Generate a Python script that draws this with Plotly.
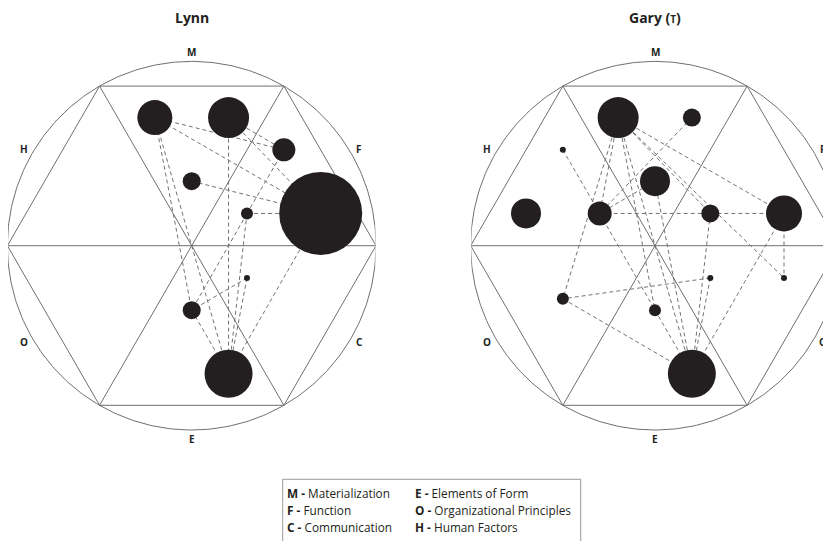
import numpy as np
import plotly.graph_objects as go

# ---------------- data ----------------
axis_letters = ["M", "F", "C", "E", "O", "H"]
axis_angles = [90, 30, -30, -90, 210, 150]

lynn_x = [-0.2, 0.2, 0.5, 0.0, 0.3, 0.7, 0.3, 0.0, 0.2]
lynn_y = [0.695, 0.695, 0.52, 0.35, 0.175, 0.175, -0.175, -0.35, -0.695]
lynn_size = [35, 41, 23, 18, 12, 83, 6, 18, 48]
lynn_edges = [(0, 2), (0, 5), (0, 7), (0, 8), (1, 2), (1, 5), (1, 8), (2, 4),
              (4, 7), (3, 5), (4, 5), (4, 8), (6, 7), (6, 8), (5, 8), (7, 8)]

gary_x = [-0.2, 0.2, -0.5, 0.0, -0.7, -0.3, 0.3, 0.7, 0.3, 0.7, -0.5, 0.0, 0.2]
gary_y = [0.695, 0.695, 0.52, 0.35, 0.175, 0.175, 0.175, 0.175, -0.175, -0.175,
          -0.288, -0.35, -0.695]
gary_size = [41, 18, 6, 30, 30, 24, 18, 36, 6, 6, 12, 12, 48]
gary_edges = [(1, 5), (3, 5), (0, 5), (0, 10), (0, 11), (0, 12), (0, 6), (0, 9),
              (0, 7), (2, 5), (5, 6), (6, 7), (7, 9), (7, 12), (6, 12), (8, 12),
              (8, 10), (10, 12), (5, 11), (11, 12), (3, 12)]

legend_rows = [("M", "Materialization", "E", "Elements of Form"),
               ("F", "Function", "O", "Organizational Principles"),
               ("C", "Communication", "H", "Human Factors")]

titles = ["Lynn", "Gary (<span style='font-size:10px'>T</span>)"]

# ---------------- figure ----------------
OFF = 8  # page body margin
W, H = 831 - OFF, 541 - OFF
FONT = "Open Sans"
INK = "#231f20"
LINE = "#6f6f6f"
DASH = "#737373"

fig = go.Figure()

def structure(xa, ya):
    t = np.linspace(0, 2 * np.pi, 361)
    fig.add_trace(go.Scatter(x=np.cos(t), y=np.sin(t), mode="lines",
                             line=dict(color=LINE, width=1), hoverinfo="skip",
                             xaxis=xa, yaxis=ya))
    ang = np.deg2rad(np.arange(0, 361, 60))
    hx, hy = list(np.cos(ang)), list(np.sin(ang))
    xs, ys = hx + [None], hy + [None]
    for k in range(3):
        a1, a2 = np.deg2rad(60 * k), np.deg2rad(60 * k + 180)
        xs += [np.cos(a1), np.cos(a2), None]
        ys += [np.sin(a1), np.sin(a2), None]
    fig.add_trace(go.Scatter(x=xs, y=ys, mode="lines",
                             line=dict(color=LINE, width=1), hoverinfo="skip",
                             xaxis=xa, yaxis=ya))

def network(xs, ys, sizes, edges, xa, ya):
    ex, ey = [], []
    for a, b in edges:
        ex += [xs[a], xs[b], None]
        ey += [ys[a], ys[b], None]
    fig.add_trace(go.Scatter(x=ex, y=ey, mode="lines",
                             line=dict(color=DASH, width=1, dash="4px,3px"),
                             hoverinfo="skip", xaxis=xa, yaxis=ya))
    fig.add_trace(go.Scatter(x=xs, y=ys, mode="markers",
                             marker=dict(size=sizes, color=INK, line=dict(width=0), opacity=1),
                             hoverinfo="skip", xaxis=xa, yaxis=ya))

def letters(xa, ya):
    for lab, a in zip(axis_letters, axis_angles):
        r = 1.05
        fig.add_annotation(x=r * np.cos(np.deg2rad(a)), y=r * np.sin(np.deg2rad(a)),
                           xref=xa, yref=ya, text="<b>%s</b>" % lab, showarrow=False,
                           font=dict(family=FONT, size=10, color=INK),
                           xanchor="center", yanchor="middle")

structure("x", "y")
network(lynn_x, lynn_y, lynn_size, lynn_edges, "x", "y")
letters("x", "y")
structure("x2", "y2")
network(gary_x, gary_y, gary_size, gary_edges, "x2", "y2")
letters("x2", "y2")

# pixel geometry (reference window pixels, shifted by the body margin)
scale = 184.3
cy = 245.7 - OFF
cx1, cx2 = 191.7 - OFF, 655.0 - OFF
yr = [-(H - cy) / scale, cy / scale]
ax_common = dict(visible=False, showgrid=False, zeroline=False, fixedrange=True)

fig.update_layout(
    width=W, height=H,
    margin=dict(l=0, r=0, t=0, b=0),
    paper_bgcolor="white", plot_bgcolor="rgba(0,0,0,0)",
    showlegend=False,
    xaxis=dict(domain=[0, 2 * cx1 / W], range=[-cx1 / scale, cx1 / scale], **ax_common),
    yaxis=dict(domain=[0, 1], range=yr, **ax_common),
    xaxis2=dict(domain=[(cx2 - cx1) / W, 1], range=[-cx1 / scale, (W - cx2) / scale],
                anchor="y2", **ax_common),
    yaxis2=dict(domain=[0, 1], range=yr, anchor="x2", **ax_common),
)

def px(x):
    return (x - OFF) / W

def py(y):
    return 1 - (y - OFF) / H

# titles
for t, cx in zip(titles, [191.7, 655.0]):
    fig.add_annotation(x=px(cx), y=py(17), xref="paper", yref="paper",
                       text="<b>%s</b>" % t, showarrow=False,
                       font=dict(family=FONT, size=14, color=INK),
                       xanchor="center", yanchor="middle")

# legend box
fig.add_shape(type="rect", xref="paper", yref="paper",
              x0=px(282.7), x1=px(580.7), y0=-0.05, y1=py(479.3),
              line=dict(color="#9a9a9a", width=1), fillcolor="rgba(0,0,0,0)")
row_y = [492.7, 510.0, 527.3]
for (k1, v1, k2, v2), yy in zip(legend_rows, row_y):
    for k, v, xx in [(k1, v1, 285.0), (k2, v2, 413.0)]:
        fig.add_annotation(x=px(xx), y=py(yy), xref="paper", yref="paper",
                           text="<b>%s -</b> %s" % (k, v), showarrow=False,
                           font=dict(family=FONT, size=11.8, color=INK),
                           xanchor="left", yanchor="middle")

fig.write_html("out.html")
